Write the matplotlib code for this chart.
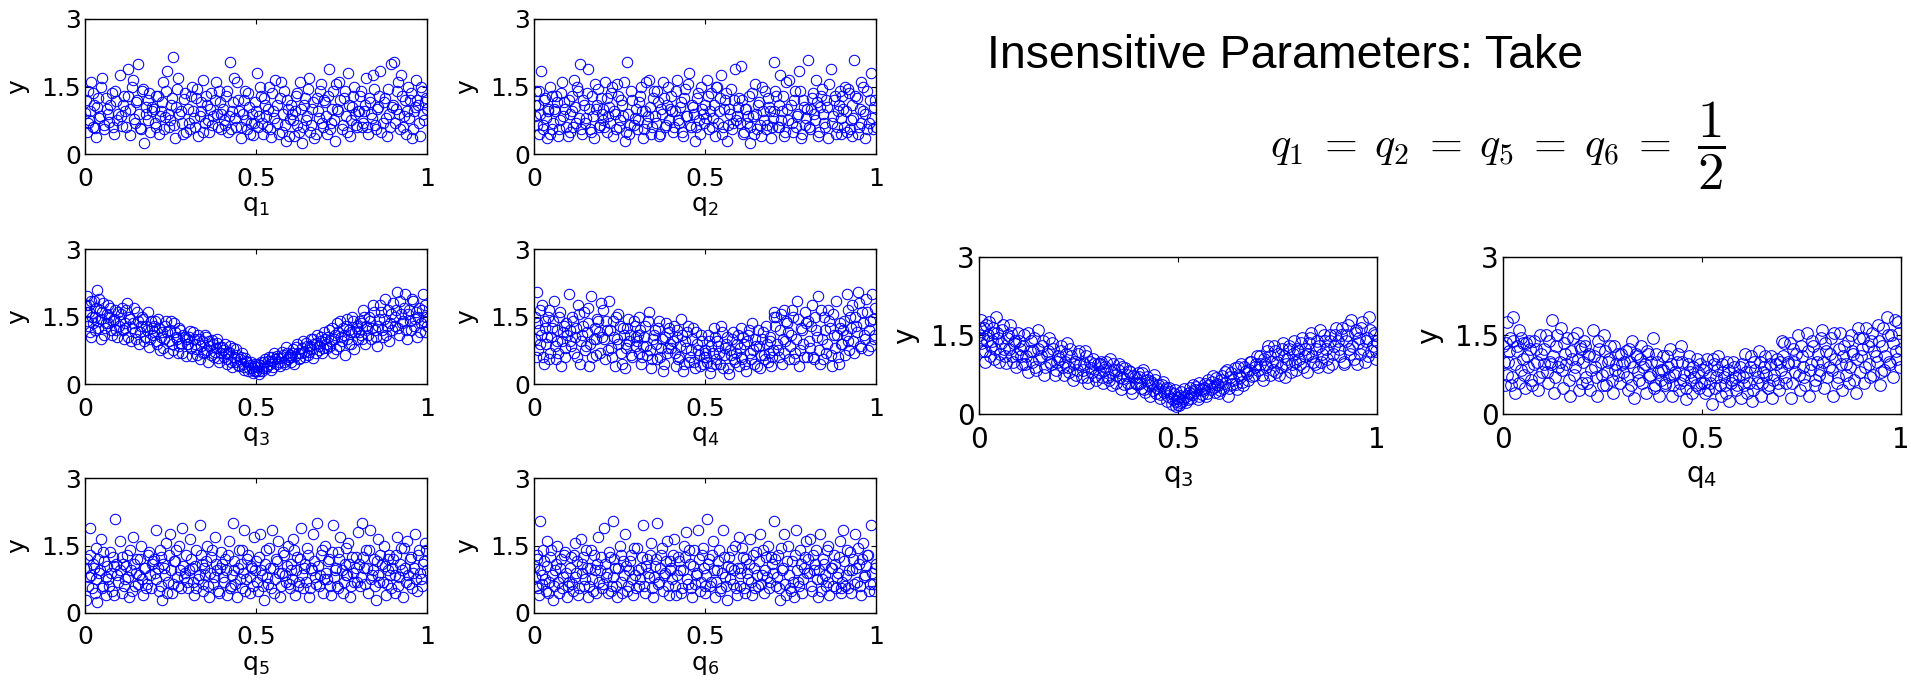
import matplotlib
matplotlib.use("Agg")
import matplotlib.pyplot as plt
import numpy as np

plt.rcParams['font.family'] = ['DejaVu Sans']
plt.rcParams['mathtext.fontset'] = 'custom'
plt.rcParams['mathtext.rm'] = 'DejaVu Sans'
plt.rcParams['mathtext.it'] = 'DejaVu Sans:italic'

# ---- data: x in 1/1000, y in 1/100 ----
q1_x = [1, 5, 8, 13, 18, 22, 27, 33, 38, 44, 51, 57, 63, 70, 78, 84, 90, 96,
        103, 109, 114, 118, 125, 131, 136, 142, 149, 155, 161, 166, 172, 179, 185, 190, 196,
        204, 209, 215, 222, 227, 233, 240, 246, 251, 257, 263, 270, 276, 283, 289, 295,
        302, 307, 313, 320, 326, 331, 338, 344, 350, 357, 363, 369, 375, 382, 388, 394, 399,
        405, 411, 418, 424, 429, 436, 442, 448, 455, 461, 467, 474, 480, 486, 492, 498,
        503, 508, 514, 520, 527, 532, 538, 545, 551, 556, 562, 569, 575, 581, 587, 593, 598,
        604, 610, 616, 621, 628, 634, 640, 646, 652, 658, 664, 671, 677, 683, 690, 696,
        702, 708, 714, 719, 726, 732, 738, 744, 750, 757, 763, 769, 775, 781, 787, 793, 798,
        803, 809, 815, 821, 827, 833, 839, 845, 851, 857, 863, 870, 876, 882, 888, 894,
        904, 909, 915, 921, 927, 932, 938, 944, 950, 956, 962, 968, 974, 980, 986, 992, 997]
q1_y = [92, 48, 140, 75, 160, 60, 110, 38, 125, 85, 168, 55, 100, 72, 135, 45, 118, 88,
        175, 62, 130, 95, 190, 42, 150, 78, 115, 200, 58, 140, 25, 88, 120, 50, 105,
        70, 128, 45, 95, 160, 82, 185, 60, 110, 215, 35, 145, 90, 68, 122, 50,
        100, 55, 150, 80, 125, 40, 95, 165, 70, 110, 48, 135, 85, 160, 60, 115, 90,
        75, 130, 50, 205, 95, 170, 60, 120, 35, 88, 140, 55, 105, 68, 42, 115,
        180, 85, 130, 45, 110, 60, 150, 38, 95, 165, 70, 125, 50, 140, 28, 100, 78,
        90, 40, 130, 65, 160, 25, 110, 75, 145, 50, 100, 35, 125, 80, 155, 60,
        115, 45, 190, 70, 140, 30, 100, 160, 55, 125, 85, 180, 40, 105, 150, 65, 95,
        130, 60, 95, 170, 45, 115, 80, 145, 55, 105, 185, 70, 125, 40, 90, 200,
        205, 100, 160, 55, 130, 85, 45, 150, 120, 35, 95, 165, 110, 40, 140, 75, 125]
q1_xb = [4, 10, 16, 24, 30, 35, 41, 47, 55, 61, 67, 74, 81, 87, 94,
         105, 111, 120, 127, 133, 139, 145, 153, 159, 165, 171, 177, 183, 188, 195,
         201, 207, 212, 218, 224, 230, 236, 243, 249, 254, 260, 266, 273, 280, 287, 293,
         304, 310, 316, 322, 328, 335, 340, 346, 353, 359, 366, 372, 379, 385, 391, 397,
         403, 409, 416, 421, 427, 433, 439, 445, 451, 457, 464, 470, 476, 483, 489, 495,
         501, 506, 511, 517, 523, 529, 535, 541, 548, 554, 560, 566, 572, 578, 584, 590, 596,
         602, 607, 613, 619, 625, 631, 637, 643, 649, 655, 661, 667, 674, 680, 686, 693, 699,
         705, 711, 716, 722, 729, 735, 741, 747, 753, 760, 766, 772, 778, 784, 790, 796,
         801, 806, 812, 818, 824, 830, 836, 842, 848, 854, 860, 866, 873, 879, 885, 891, 897,
         902, 906, 912, 918, 924, 930, 935, 941, 947, 953, 959, 965, 971, 977, 983, 989, 995, 999]
q1_yb = [120, 70, 95, 135, 58, 105, 80, 150, 65, 125, 90, 110, 60, 140, 75,
         85, 110, 60, 130, 100, 165, 70, 120, 90, 55, 145, 105, 75, 135, 95,
         100, 60, 130, 85, 115, 55, 140, 90, 75, 125, 65, 105, 170, 95, 45, 135,
         70, 130, 95, 60, 145, 85, 115, 50, 130, 75, 100, 65, 120, 90, 140, 55,
         100, 65, 140, 85, 55, 115, 80, 160, 95, 60, 120, 75, 135, 45, 90, 70,
         95, 60, 150, 70, 125, 85, 100, 55, 135, 80, 110, 45, 160, 90, 65, 120, 40,
         110, 75, 95, 135, 50, 100, 60, 125, 85, 170, 65, 115, 45, 95, 140, 70, 120,
         85, 130, 55, 100, 75, 155, 95, 120, 65, 140, 50, 110, 75, 130, 90, 60,
         95, 140, 70, 110, 60, 125, 90, 175, 65, 100, 130, 50, 115, 80, 145, 60, 105,
         110, 70, 140, 90, 175, 60, 120, 95, 80, 135, 55, 105, 120, 70, 150, 90, 115, 100]

q2_x = [3, 7, 12, 16, 21, 27, 32, 37, 42, 48, 54, 59, 65, 71, 77, 83, 89, 95,
        101, 106, 112, 118, 123, 129, 135, 140, 146, 152, 157, 163, 169, 175, 181, 186, 192, 198,
        203, 208, 214, 220, 226, 231, 237, 243, 249, 255, 261, 267, 273, 279, 285, 291, 297,
        302, 308, 313, 319, 325, 331, 337, 342, 348, 354, 360, 366, 372, 378, 384, 390, 396,
        401, 407, 413, 418, 424, 430, 436, 442, 447, 453, 459, 465, 471, 477, 483, 489, 495,
        500, 506, 512, 517, 523, 529, 535, 541, 547, 552, 558, 564, 570, 576, 582, 588, 594, 599,
        604, 610, 616, 622, 628, 633, 639, 645, 651, 657, 663, 669, 675, 681, 687, 693, 698,
        703, 709, 715, 720, 726, 732, 738, 744, 750, 756, 762, 768, 774, 780, 786, 792, 798,
        802, 808, 814, 820, 825, 831, 837, 843, 849, 855, 861, 867, 873, 879, 885, 891, 897,
        903, 908, 914, 920, 926, 931, 937, 943, 949, 955, 961, 967, 973, 979, 985, 991, 997]
q2_y = [85, 140, 110, 45, 185, 65, 125, 35, 95, 150, 55, 100, 130, 40, 75, 160, 115, 60,
        120, 50, 95, 165, 70, 140, 200, 45, 110, 80, 190, 55, 130, 35, 100, 145, 65, 90,
        75, 160, 50, 105, 135, 40, 90, 155, 60, 120, 85, 30, 205, 45, 140, 65, 100,
        55, 115, 150, 35, 95, 70, 165, 45, 125, 85, 140, 40, 100, 160, 60, 110, 75,
        130, 50, 95, 165, 70, 115, 40, 145, 85, 180, 60, 105, 30, 125, 75, 150, 90,
        110, 165, 55, 135, 80, 40, 150, 95, 175, 60, 120, 30, 100, 145, 70, 190, 85, 125,
        195, 45, 100, 70, 130, 25, 85, 155, 55, 115, 40, 95, 140, 65, 105, 35, 80,
        205, 130, 60, 175, 95, 40, 160, 75, 110, 50, 140, 85, 185, 35, 120, 65, 100,
        210, 55, 125, 90, 165, 40, 105, 145, 70, 120, 35, 190, 85, 130, 60, 110, 45,
        100, 150, 50, 135, 75, 40, 210, 125, 60, 160, 95, 35, 140, 70, 180, 55, 120]
q2_xb = [2, 9, 14, 19, 25, 30, 35, 40, 46, 52, 57, 62, 68, 74, 80, 86, 92, 98,
         104, 110, 115, 121, 126, 132, 138, 144, 149, 155, 160, 166, 172, 178, 184, 190, 195,
         201, 206, 212, 217, 223, 229, 234, 240, 246, 252, 258, 264, 270, 276, 282, 288, 294,
         305, 310, 316, 322, 328, 334, 339, 345, 351, 357, 363, 369, 375, 381, 387, 393, 399,
         404, 410, 416, 421, 427, 433, 439, 444, 450, 456, 462, 468, 474, 480, 486, 492, 498,
         503, 509, 514, 520, 526, 532, 538, 544, 549, 555, 561, 567, 573, 579, 585, 591, 597,
         601, 607, 613, 619, 625, 631, 636, 642, 648, 654, 660, 666, 672, 678, 684, 690, 696,
         701, 706, 712, 717, 723, 729, 735, 741, 747, 753, 759, 765, 771, 777, 783, 789, 795,
         805, 811, 817, 822, 828, 834, 840, 846, 852, 858, 864, 870, 876, 882, 888, 894, 899,
         901, 906, 911, 917, 923, 929, 934, 940, 946, 952, 957, 963, 969, 975, 981, 987, 993, 999]
q2_yb = [110, 65, 140, 90, 55, 120, 80, 100, 45, 130, 70, 95, 115, 55, 135, 85, 100, 40,
         90, 130, 60, 105, 150, 80, 55, 120, 70, 135, 100, 50, 85, 155, 110, 60, 125,
         100, 60, 125, 85, 70, 150, 95, 55, 130, 75, 110, 160, 50, 90, 65, 120, 80,
         75, 130, 95, 55, 160, 85, 105, 60, 140, 70, 115, 45, 90, 125, 65, 150, 100,
         95, 60, 140, 75, 105, 50, 125, 85, 155, 65, 110, 90, 60, 135, 45, 100, 70,
         80, 130, 95, 60, 110, 150, 70, 125, 45, 100, 135, 65, 90, 55, 120, 75, 105,
         70, 120, 50, 100, 85, 60, 135, 45, 90, 110, 65, 150, 75, 55, 125, 95, 60,
         95, 140, 60, 110, 75, 130, 50, 100, 165, 70, 120, 60, 90, 140, 45, 105, 80,
         60, 100, 135, 75, 115, 50, 130, 90, 60, 105, 155, 70, 120, 45, 95, 140, 80,
         130, 60, 95, 145, 55, 110, 80, 130, 45, 100, 70, 150, 90, 55, 120, 80, 105, 60]

q3_x = [2, 5, 9, 13, 17, 21, 26, 30, 35, 39, 44, 48, 53, 58, 63, 68, 73, 79, 85, 91, 96,
        102, 107, 113, 118, 124, 129, 135, 140, 146, 152, 158, 163, 169, 175, 181, 187, 193, 198,
        203, 208, 214, 219, 225, 231, 236, 242, 248, 253, 259, 265, 271, 276, 282, 288, 294, 299,
        302, 308, 313, 319, 324, 330, 336, 342, 347, 353, 359, 364, 370, 376, 382, 387, 393, 398,
        403, 408, 414, 419, 425, 431, 436, 442, 447, 453, 458, 464, 469, 475, 480, 486, 491, 495, 499,
        501, 505, 510, 515, 521, 526, 532, 537, 543, 548, 554, 560, 565, 571, 577, 583, 588, 594, 599,
        603, 609, 614, 620, 626, 631, 637, 643, 648, 654, 660, 666, 671, 677, 683, 689, 694, 699,
        702, 708, 713, 719, 725, 730, 736, 742, 748, 753, 759, 765, 771, 777, 782, 788, 794, 799,
        803, 808, 814, 820, 826, 831, 837, 843, 849, 855, 861, 866, 872, 878, 884, 890, 896,
        902, 907, 913, 918, 924, 930, 935, 941, 947, 953, 959, 964, 970, 976, 982, 988, 993, 998]
q3_y = [160, 195, 130, 175, 105, 150, 185, 120, 210, 140, 165, 100, 180, 125, 155, 135, 170, 110, 145, 120, 160,
        140, 170, 100, 125, 180, 150, 95, 135, 115, 160, 88, 130, 145, 105, 120, 82, 140, 110,
        130, 95, 145, 75, 115, 100, 140, 68, 120, 88, 135, 105, 70, 125, 92, 110, 62, 100,
        90, 118, 62, 100, 78, 110, 55, 95, 72, 105, 50, 85, 98, 60, 80, 92, 48, 70,
        75, 90, 45, 68, 85, 38, 60, 78, 42, 55, 70, 32, 58, 48, 35, 50, 25, 40, 30,
        28, 45, 22, 50, 35, 55, 40, 60, 32, 52, 68, 45, 58, 40, 72, 50, 82, 55, 65,
        48, 78, 62, 90, 55, 70, 95, 60, 85, 72, 100, 58, 88, 110, 75, 95, 68, 115,
        100, 80, 120, 95, 70, 110, 135, 85, 105, 125, 65, 145, 90, 115, 150, 78, 130, 100,
        140, 110, 165, 90, 125, 150, 100, 175, 120, 85, 145, 160, 105, 190, 130, 95, 155,
        180, 130, 205, 110, 155, 140, 200, 100, 165, 120, 185, 145, 105, 170, 135, 200, 115, 150]
q3_xb = [3, 7, 11, 15, 19, 23, 28, 33, 37, 42, 46, 51, 56, 61, 66, 71, 76, 82, 88, 94, 99,
         104, 110, 116, 121, 127, 132, 138, 143, 149, 155, 161, 166, 172, 178, 184, 190, 196,
         201, 206, 211, 217, 222, 228, 233, 239, 245, 251, 256, 262, 268, 274, 279, 285, 291, 297,
         304, 310, 316, 322, 327, 333, 339, 345, 350, 356, 362, 367, 373, 379, 385, 390, 396,
         401, 405, 411, 416, 422, 427, 433, 439, 444, 450, 455, 461, 466, 472, 477, 483, 488, 493, 497,
         503, 508, 513, 518, 524, 529, 535, 540, 546, 551, 557, 562, 568, 574, 580, 585, 591, 596,
         601, 606, 612, 617, 623, 629, 634, 640, 645, 651, 657, 662, 668, 674, 679, 685, 691, 696,
         705, 710, 716, 722, 727, 733, 739, 745, 750, 756, 762, 767, 773, 779, 785, 790, 796,
         801, 806, 811, 817, 823, 828, 834, 840, 846, 852, 858, 864, 869, 875, 881, 887, 893, 899,
         905, 910, 916, 921, 927, 933, 938, 944, 950, 956, 961, 967, 973, 979, 985, 990, 995, 999]
q3_yb = [175, 140, 160, 115, 185, 135, 150, 170, 125, 190, 145, 160, 110, 135, 175, 150, 120, 140, 165, 105, 130,
         155, 120, 135, 165, 105, 145, 125, 170, 100, 140, 115, 150, 95, 130, 160, 100, 125,
         115, 140, 90, 125, 105, 80, 130, 115, 95, 140, 75, 115, 100, 85, 120, 70, 105, 90,
         105, 80, 115, 90, 65, 100, 85, 70, 110, 75, 95, 65, 88, 72, 100, 58, 82,
         82, 60, 70, 55, 72, 50, 80, 48, 65, 40, 60, 45, 38, 52, 30, 42, 35, 28, 45,
         38, 30, 42, 28, 48, 36, 52, 45, 60, 38, 55, 62, 48, 58, 65, 45, 70, 60,
         60, 70, 45, 82, 68, 58, 80, 72, 92, 65, 85, 78, 100, 70, 92, 85, 105, 80,
         90, 105, 85, 125, 100, 78, 115, 140, 95, 110, 130, 100, 120, 90, 140, 115, 125,
         115, 135, 100, 150, 130, 110, 140, 125, 160, 105, 130, 175, 120, 145, 110, 165, 135, 120,
         150, 165, 125, 185, 135, 170, 120, 155, 140, 190, 130, 160, 150, 115, 165, 140, 175, 130]

q4_x = [2, 6, 10, 15, 19, 24, 29, 33, 38, 43, 48, 53, 58, 63, 68, 73, 79, 84, 90, 95,
        101, 106, 112, 117, 123, 128, 134, 140, 145, 151, 157, 162, 168, 174, 180, 185, 191, 197,
        202, 208, 213, 219, 225, 230, 236, 242, 247, 253, 259, 265, 270, 276, 282, 288, 294, 299,
        303, 308, 314, 320, 325, 331, 337, 343, 348, 354, 360, 365, 371, 377, 383, 388, 394, 399,
        402, 408, 414, 419, 425, 431, 436, 442, 448, 453, 459, 465, 471, 476, 482, 488, 494, 499,
        503, 508, 514, 519, 525, 531, 536, 542, 548, 553, 559, 565, 570, 576, 582, 587, 593, 598,
        604, 609, 615, 621, 626, 632, 638, 643, 649, 655, 660, 666, 672, 677, 683, 689, 694, 699,
        703, 708, 713, 718, 724, 730, 735, 741, 747, 752, 758, 764, 769, 775, 781, 787, 792, 798,
        802, 808, 813, 819, 825, 830, 836, 842, 848, 853, 859, 865, 871, 876, 882, 888, 894, 899,
        903, 908, 914, 919, 925, 931, 936, 942, 948, 953, 959, 965, 971, 976, 982, 988, 993, 998]
q4_y = [150, 60, 205, 120, 90, 175, 45, 140, 105, 165, 70, 125, 185, 55, 95, 150, 40, 115, 80, 135,
        200, 95, 150, 70, 125, 175, 45, 110, 160, 85, 135, 40, 195, 100, 65, 145, 115, 180,
        165, 55, 120, 185, 80, 140, 40, 100, 155, 70, 125, 35, 90, 145, 110, 60, 130, 85,
        110, 150, 45, 85, 130, 65, 160, 35, 100, 120, 55, 140, 80, 30, 105, 70, 125, 90,
        80, 130, 40, 105, 60, 145, 30, 95, 115, 50, 75, 125, 35, 90, 65, 110, 45, 70,
        60, 110, 25, 85, 125, 45, 95, 70, 130, 35, 80, 105, 22, 65, 115, 50, 90, 40,
        125, 55, 90, 30, 110, 70, 135, 45, 85, 120, 35, 100, 65, 130, 50, 95, 40, 75,
        160, 150, 75, 120, 45, 165, 95, 135, 55, 110, 150, 70, 185, 40, 125, 90, 160, 60,
        140, 80, 175, 55, 120, 195, 45, 100, 150, 70, 165, 125, 40, 110, 185, 60, 135, 90,
        120, 65, 200, 95, 150, 175, 70, 130, 205, 85, 160, 110, 190, 75, 140, 200, 100, 170]
q4_xb = [4, 8, 13, 17, 21, 26, 31, 36, 40, 45, 50, 55, 61, 66, 71, 76, 81, 87, 92, 97,
         104, 109, 115, 120, 126, 131, 137, 143, 148, 154, 159, 165, 171, 177, 182, 188, 194, 199,
         205, 210, 216, 222, 228, 233, 239, 245, 250, 256, 262, 268, 273, 279, 285, 291, 297,
         301, 306, 311, 317, 322, 328, 334, 340, 345, 351, 357, 362, 368, 374, 380, 385, 391, 396,
         405, 411, 417, 422, 428, 434, 439, 445, 451, 456, 462, 468, 474, 479, 485, 491, 496,
         501, 506, 511, 517, 522, 528, 533, 539, 545, 550, 556, 562, 567, 573, 579, 584, 590, 596,
         601, 606, 612, 618, 623, 629, 635, 640, 646, 652, 657, 663, 669, 674, 680, 686, 691, 697,
         701, 705, 710, 715, 721, 727, 732, 738, 744, 749, 755, 761, 766, 772, 778, 784, 789, 795,
         805, 810, 816, 822, 827, 833, 839, 844, 850, 856, 862, 867, 873, 879, 885, 891, 896,
         901, 906, 911, 917, 922, 928, 933, 939, 945, 950, 956, 962, 968, 973, 979, 985, 990, 996]
q4_yb = [100, 135, 75, 165, 110, 60, 125, 90, 150, 55, 105, 140, 85, 120, 70, 160, 95, 130, 60, 110,
         120, 85, 140, 105, 60, 155, 95, 130, 75, 115, 170, 90, 60, 125, 100, 140, 70, 105,
         100, 140, 75, 120, 60, 105, 150, 90, 130, 45, 110, 80, 125, 95, 65, 140, 105,
         95, 70, 120, 60, 105, 85, 140, 75, 55, 110, 90, 125, 60, 100, 45, 135, 80, 115,
         95, 70, 120, 55, 85, 110, 45, 80, 130, 60, 100, 50, 115, 75, 40, 95, 60,
         75, 50, 95, 40, 70, 105, 55, 85, 45, 115, 65, 90, 35, 75, 100, 55, 70, 110,
         80, 60, 105, 45, 95, 120, 55, 75, 100, 40, 85, 65, 115, 55, 90, 70, 105, 60,
         150, 130, 90, 60, 155, 100, 70, 140, 115, 85, 165, 55, 100, 145, 75, 120, 60, 135,
         95, 130, 60, 150, 105, 75, 165, 55, 120, 90, 140, 65, 155, 80, 110, 45, 125,
         90, 140, 110, 165, 75, 125, 95, 150, 115, 180, 80, 135, 100, 160, 120, 85, 145, 110]

q5_x = [2, 7, 11, 16, 21, 26, 31, 36, 41, 47, 52, 57, 62, 67, 73, 78, 84, 89, 95,
        101, 107, 112, 118, 124, 130, 135, 141, 147, 153, 158, 164, 170, 176, 181, 187, 193, 198,
        204, 209, 215, 221, 226, 232, 238, 243, 249, 255, 261, 266, 272, 278, 283, 289, 295,
        301, 306, 312, 318, 324, 329, 335, 341, 346, 352, 358, 364, 369, 375, 381, 387, 392, 398,
        403, 409, 414, 420, 426, 432, 437, 443, 449, 455, 460, 466, 472, 478, 483, 489, 495,
        501, 506, 512, 518, 524, 529, 535, 541, 547, 552, 558, 564, 570, 575, 581, 587, 593, 598,
        603, 609, 615, 620, 626, 632, 638, 643, 649, 655, 661, 666, 672, 678, 684, 689, 695,
        701, 707, 713, 718, 724, 730, 736, 741, 747, 753, 759, 764, 770, 776, 782, 788, 793, 799,
        804, 809, 815, 821, 827, 832, 838, 844, 850, 856, 861, 867, 873, 879, 885, 890, 896,
        902, 907, 913, 919, 925, 930, 936, 942, 948, 954, 959, 965, 971, 977, 983, 988, 994, 999]
q5_y = [30, 120, 80, 190, 55, 100, 145, 25, 90, 165, 60, 115, 40, 75, 135, 50, 105, 210, 85,
        160, 45, 110, 75, 130, 35, 95, 170, 60, 120, 85, 150, 40, 100, 65, 135, 55, 115,
        90, 185, 50, 125, 30, 100, 155, 70, 175, 45, 115, 140, 60, 95, 190, 80, 130,
        55, 165, 100, 40, 140, 75, 195, 110, 50, 85, 150, 35, 125, 65, 170, 95, 45, 135,
        80, 120, 40, 160, 60, 200, 95, 35, 140, 110, 55, 185, 75, 130, 45, 100, 170,
        115, 50, 175, 85, 30, 140, 65, 100, 185, 45, 120, 160, 35, 90, 130, 70, 150, 55,
        95, 165, 40, 125, 70, 190, 55, 110, 145, 35, 100, 175, 80, 200, 60, 130, 45,
        150, 75, 120, 40, 195, 95, 60, 135, 170, 45, 110, 85, 155, 35, 125, 70, 100, 180,
        60, 200, 100, 140, 45, 185, 85, 120, 30, 165, 70, 110, 150, 40, 95, 130, 55,
        120, 45, 170, 80, 145, 35, 100, 160, 65, 125, 90, 175, 50, 140, 75, 110, 155, 95]
q5_xb = [4, 9, 14, 19, 23, 28, 33, 38, 44, 49, 54, 60, 65, 70, 75, 81, 86, 92, 97,
         103, 109, 115, 121, 127, 132, 138, 144, 150, 155, 161, 167, 173, 179, 184, 190, 196,
         201, 207, 212, 218, 223, 229, 235, 241, 246, 252, 258, 263, 269, 275, 281, 286, 292, 298,
         303, 309, 315, 321, 326, 332, 338, 344, 349, 355, 361, 366, 372, 378, 384, 389, 395,
         401, 406, 412, 417, 423, 429, 435, 440, 446, 452, 458, 463, 469, 475, 481, 486, 492, 498,
         503, 509, 515, 521, 527, 532, 538, 544, 550, 555, 561, 567, 573, 578, 584, 590, 596,
         601, 606, 612, 618, 623, 629, 635, 641, 646, 652, 658, 664, 669, 675, 681, 687, 692, 698,
         704, 710, 716, 721, 727, 733, 739, 744, 750, 756, 762, 767, 773, 779, 785, 791, 796,
         801, 807, 812, 818, 824, 830, 835, 841, 847, 853, 858, 864, 870, 876, 882, 887, 893, 899,
         905, 910, 916, 922, 928, 933, 939, 945, 951, 957, 962, 968, 974, 980, 986, 991, 997]
q5_yb = [100, 60, 130, 85, 110, 45, 75, 120, 95, 55, 135, 80, 105, 60, 90, 125, 40, 110, 70,
         95, 125, 60, 105, 80, 140, 50, 110, 90, 65, 120, 75, 100, 55, 130, 85, 110,
         120, 75, 100, 140, 60, 110, 85, 45, 130, 95, 65, 115, 80, 150, 55, 105, 90, 70,
         95, 120, 70, 105, 55, 85, 130, 65, 100, 115, 60, 90, 140, 80, 110, 50, 100,
         110, 70, 95, 130, 55, 85, 115, 65, 100, 75, 140, 90, 50, 120, 80, 105, 60, 95,
         70, 125, 95, 60, 110, 80, 145, 55, 100, 75, 115, 90, 60, 135, 85, 105, 65,
         110, 75, 140, 95, 60, 120, 85, 100, 70, 130, 55, 95, 115, 65, 105, 85, 140, 75,
         90, 115, 60, 135, 80, 100, 55, 120, 95, 70, 145, 85, 110, 60, 90, 125, 70,
         110, 80, 125, 65, 100, 140, 75, 95, 60, 115, 85, 130, 70, 105, 65, 120, 85, 100,
         85, 130, 60, 110, 95, 145, 70, 85, 120, 55, 100, 75, 130, 90, 60, 115, 140]

q6_x = [1, 5, 10, 14, 19, 24, 29, 34, 39, 45, 50, 56, 61, 67, 72, 78, 84, 90, 96,
        102, 107, 113, 119, 124, 130, 136, 141, 147, 153, 158, 164, 170, 176, 182, 187, 193, 199,
        204, 210, 215, 221, 227, 232, 238, 244, 250, 255, 261, 267, 273, 278, 284, 290, 296,
        302, 307, 313, 319, 325, 330, 336, 342, 348, 353, 359, 365, 371, 377, 382, 388, 394, 399,
        404, 409, 415, 421, 427, 432, 438, 444, 450, 456, 461, 467, 473, 479, 485, 490, 496,
        501, 507, 513, 518, 524, 530, 536, 541, 547, 553, 559, 565, 570, 576, 582, 588, 594, 599,
        603, 608, 614, 620, 626, 631, 637, 643, 649, 655, 660, 666, 672, 678, 684, 689, 695,
        702, 707, 713, 719, 725, 731, 736, 742, 748, 754, 760, 765, 771, 777, 783, 789, 795,
        801, 806, 812, 818, 824, 830, 835, 841, 847, 853, 859, 864, 870, 876, 882, 888, 894, 899,
        904, 910, 915, 921, 927, 933, 938, 944, 950, 956, 962, 967, 973, 979, 985, 991, 997]
q6_y = [105, 60, 130, 40, 205, 85, 115, 50, 160, 70, 140, 30, 95, 150, 45, 120, 80, 135, 35,
        70, 125, 50, 155, 90, 40, 165, 110, 60, 140, 35, 100, 75, 130, 45, 170, 95, 55,
        190, 80, 45, 125, 60, 205, 100, 35, 150, 70, 115, 175, 50, 95, 130, 40, 85,
        145, 60, 100, 195, 45, 120, 80, 155, 35, 105, 200, 70, 130, 50, 90, 160, 40, 115,
        75, 165, 40, 125, 95, 55, 150, 180, 65, 110, 35, 140, 85, 185, 50, 130, 100,
        45, 210, 120, 70, 160, 35, 95, 140, 55, 185, 80, 30, 125, 100, 65, 150, 40, 170,
        90, 145, 55, 120, 75, 165, 40, 100, 135, 60, 175, 85, 45, 125, 150, 70, 110,
        205, 60, 130, 30, 95, 175, 40, 150, 55, 115, 35, 185, 70, 140, 45, 100, 160,
        120, 165, 50, 95, 140, 35, 175, 75, 110, 60, 150, 40, 100, 130, 55, 90, 160, 45,
        185, 60, 140, 95, 45, 120, 175, 70, 110, 40, 155, 85, 130, 50, 195, 65, 100]
q6_xb = [3, 8, 12, 17, 22, 27, 32, 37, 42, 47, 53, 58, 64, 69, 75, 81, 87, 93, 98,
         104, 110, 116, 121, 127, 133, 139, 144, 150, 156, 161, 167, 173, 179, 185, 190, 196,
         201, 207, 213, 218, 224, 230, 235, 241, 247, 253, 258, 264, 270, 276, 281, 287, 293, 298,
         304, 310, 316, 322, 327, 333, 339, 345, 350, 356, 362, 368, 374, 379, 385, 391, 397,
         401, 407, 412, 418, 424, 430, 435, 441, 447, 453, 458, 464, 470, 476, 482, 487, 493, 499,
         504, 510, 515, 521, 527, 533, 539, 544, 550, 556, 562, 567, 573, 579, 585, 591, 597,
         601, 606, 611, 617, 623, 629, 634, 640, 646, 652, 657, 663, 669, 675, 681, 686, 692, 698,
         704, 710, 716, 722, 728, 733, 739, 745, 751, 757, 762, 768, 774, 780, 786, 792, 798,
         803, 809, 815, 821, 827, 832, 838, 844, 850, 856, 861, 867, 873, 879, 885, 891, 897,
         901, 907, 913, 918, 924, 930, 936, 941, 947, 953, 959, 965, 970, 976, 982, 988, 994, 999]
q6_yb = [80, 120, 55, 95, 65, 140, 75, 105, 45, 125, 85, 60, 110, 70, 100, 55, 130, 90, 60,
         100, 65, 130, 80, 115, 55, 90, 125, 75, 100, 60, 140, 50, 95, 110, 70, 125,
         65, 110, 90, 135, 50, 80, 120, 60, 100, 130, 45, 85, 105, 60, 115, 75, 145, 55,
         95, 75, 125, 60, 105, 90, 130, 55, 80, 120, 65, 100, 145, 85, 115, 60, 95,
         100, 130, 60, 85, 115, 45, 95, 125, 75, 140, 55, 105, 65, 90, 120, 70, 145, 60,
         85, 110, 60, 130, 95, 70, 115, 50, 90, 125, 60, 105, 75, 140, 95, 55, 100,
         60, 100, 125, 45, 90, 110, 70, 130, 55, 85, 115, 65, 140, 95, 80, 55, 125, 90,
         120, 80, 55, 145, 100, 65, 115, 85, 50, 70, 130, 95, 60, 110, 75, 125, 90,
         90, 60, 130, 110, 75, 95, 50, 120, 85, 140, 70, 100, 60, 110, 80, 125, 55,
         70, 115, 85, 55, 135, 95, 65, 100, 145, 60, 120, 80, 105, 130, 65, 90, 50, 110]

# second sample, shown enlarged on the right
r3_x = [1, 4, 8, 12, 16, 20, 25, 29, 34, 38, 43, 47, 52, 57, 62, 67, 72, 77, 83, 88, 94, 98,
        103, 108, 113, 119, 124, 130, 135, 141, 147, 152, 158, 164, 170, 176, 181, 187, 193, 198,
        202, 207, 213, 218, 224, 229, 235, 241, 246, 252, 258, 263, 269, 275, 281, 286, 292, 298,
        301, 306, 312, 317, 323, 329, 334, 340, 345, 351, 357, 362, 368, 374, 380, 385, 391, 397,
        402, 407, 412, 418, 423, 429, 434, 440, 445, 451, 456, 462, 467, 473, 478, 484, 489, 494, 498,
        502, 506, 511, 516, 521, 527, 532, 538, 543, 549, 554, 560, 565, 571, 576, 582, 587, 593, 598,
        603, 608, 614, 619, 625, 631, 636, 642, 647, 653, 659, 664, 670, 676, 681, 687, 693, 698,
        702, 707, 713, 718, 724, 730, 735, 741, 746, 752, 758, 763, 769, 775, 780, 786, 792, 797,
        801, 806, 812, 818, 823, 829, 835, 840, 846, 852, 858, 863, 869, 875, 881, 886, 892, 898,
        902, 907, 913, 918, 924, 930, 935, 941, 946, 952, 958, 963, 969, 975, 981, 986, 992, 997, 999]
r3_y = [150, 180, 120, 165, 100, 140, 175, 130, 155, 105, 185, 145, 115, 160, 125, 98, 150, 170, 110, 135, 90, 155,
        125, 95, 150, 110, 80, 140, 120, 90, 160, 105, 130, 75, 115, 145, 95, 125, 85, 110,
        105, 130, 75, 115, 90, 125, 65, 100, 85, 120, 70, 95, 110, 60, 88, 105, 72, 95,
        80, 100, 60, 90, 70, 105, 55, 85, 75, 95, 48, 68, 88, 60, 80, 40, 70, 58,
        70, 50, 85, 42, 65, 35, 58, 75, 40, 55, 30, 62, 45, 25, 50, 20, 38, 15, 30,
        18, 35, 25, 48, 22, 40, 30, 55, 45, 28, 60, 38, 50, 35, 65, 48, 72, 42, 58,
        40, 65, 50, 80, 35, 70, 58, 88, 48, 75, 95, 55, 82, 65, 100, 72, 90, 110,
        85, 110, 65, 95, 120, 75, 100, 130, 80, 115, 90, 135, 70, 105, 125, 95, 140, 85,
        120, 95, 145, 110, 80, 135, 155, 100, 125, 90, 160, 115, 140, 105, 150, 95, 130, 165,
        140, 110, 165, 95, 150, 125, 180, 105, 160, 135, 115, 175, 100, 145, 185, 120, 155, 105, 140]
r3_xb = [3, 6, 10, 14, 18, 23, 27, 32, 36, 41, 45, 50, 55, 60, 65, 70, 75, 80, 86, 91, 96,
         101, 106, 111, 116, 122, 127, 133, 138, 144, 149, 155, 161, 167, 173, 178, 184, 190, 196,
         205, 210, 216, 221, 227, 232, 238, 244, 249, 255, 261, 266, 272, 278, 284, 289, 295,
         303, 309, 315, 320, 326, 331, 337, 343, 348, 354, 360, 365, 371, 377, 383, 388, 394, 399,
         404, 410, 415, 421, 426, 432, 437, 443, 448, 454, 459, 465, 470, 476, 481, 487, 492, 496, 500,
         501, 504, 508, 513, 519, 524, 530, 535, 541, 546, 552, 557, 563, 568, 574, 579, 585, 590, 596,
         601, 606, 611, 617, 622, 628, 634, 639, 645, 650, 656, 662, 667, 673, 679, 684, 690, 696,
         705, 710, 716, 721, 727, 732, 738, 744, 749, 755, 761, 766, 772, 778, 783, 789, 795, 799,
         803, 809, 815, 820, 826, 832, 837, 843, 849, 855, 860, 866, 872, 878, 883, 889, 895,
         904, 910, 916, 921, 927, 933, 938, 944, 949, 955, 961, 966, 972, 978, 983, 989, 995, 998]
r3_yb = [165, 135, 145, 120, 170, 150, 110, 140, 165, 125, 155, 100, 135, 170, 110, 145, 125, 155, 100, 140, 115,
         140, 110, 130, 95, 155, 120, 100, 145, 85, 125, 110, 140, 90, 120, 100, 135, 75, 100,
         120, 90, 100, 135, 80, 110, 95, 75, 115, 95, 85, 120, 70, 100, 80, 95, 65,
         95, 70, 85, 100, 65, 80, 95, 60, 85, 70, 90, 58, 75, 82, 50, 72, 60, 78,
         60, 78, 48, 70, 55, 62, 45, 65, 50, 38, 55, 42, 50, 35, 42, 28, 45, 25, 20,
         30, 22, 42, 30, 35, 28, 50, 38, 42, 52, 35, 48, 45, 58, 40, 55, 62, 52, 68,
         55, 45, 72, 60, 85, 50, 78, 65, 58, 90, 70, 62, 90, 78, 85, 100, 75, 95,
         95, 75, 105, 90, 130, 110, 85, 120, 100, 75, 125, 110, 95, 130, 80, 115, 100, 125,
         105, 135, 90, 125, 115, 145, 110, 95, 140, 130, 100, 150, 125, 90, 140, 115, 150,
         125, 150, 100, 140, 170, 115, 130, 155, 95, 145, 165, 125, 140, 110, 160, 130, 150, 120]

r4_x = [1, 5, 9, 13, 17, 22, 26, 31, 36, 41, 46, 51, 56, 61, 66, 71, 77, 82, 88, 94, 98,
        102, 107, 112, 117, 122, 128, 133, 139, 145, 150, 156, 162, 168, 173, 179, 185, 191, 197,
        203, 208, 214, 219, 225, 231, 236, 242, 248, 253, 259, 265, 270, 276, 282, 288, 293, 299,
        302, 308, 313, 319, 325, 330, 336, 342, 347, 353, 359, 365, 370, 376, 382, 387, 393, 398,
        403, 408, 414, 419, 425, 430, 436, 442, 447, 453, 459, 464, 470, 475, 481, 487, 492, 498,
        502, 507, 513, 519, 524, 530, 535, 541, 547, 552, 558, 564, 569, 575, 581, 586, 592, 598,
        603, 608, 614, 620, 625, 631, 637, 642, 648, 654, 659, 665, 671, 676, 682, 688, 693, 698,
        702, 707, 712, 717, 723, 729, 734, 740, 746, 751, 757, 763, 768, 774, 780, 785, 791, 796,
        801, 807, 812, 818, 824, 829, 835, 841, 846, 852, 858, 863, 869, 875, 880, 886, 892, 897,
        902, 907, 913, 919, 924, 930, 936, 941, 947, 953, 958, 964, 970, 975, 981, 987, 992, 997]
r4_y = [130, 55, 175, 100, 145, 70, 185, 40, 120, 160, 85, 135, 50, 110, 140, 65, 95, 125, 45, 150, 80,
        95, 150, 60, 100, 180, 40, 130, 90, 165, 50, 115, 145, 35, 105, 75, 155, 45, 125,
        140, 70, 110, 45, 160, 90, 35, 125, 75, 150, 55, 100, 130, 40, 85, 115, 60, 95,
        80, 120, 45, 100, 140, 30, 110, 65, 130, 90, 40, 115, 75, 145, 55, 100, 35, 85,
        110, 55, 90, 125, 35, 75, 100, 45, 130, 65, 28, 95, 80, 40, 70, 105, 50, 60,
        85, 40, 105, 60, 20, 95, 70, 110, 35, 80, 55, 100, 25, 65, 90, 45, 75, 30,
        70, 115, 40, 90, 25, 100, 60, 120, 35, 80, 110, 50, 95, 30, 75, 105, 45, 85,
        140, 135, 60, 100, 30, 125, 80, 150, 45, 110, 70, 155, 35, 95, 130, 55, 115, 85,
        160, 50, 120, 90, 145, 35, 105, 70, 155, 45, 130, 95, 60, 150, 115, 40, 165, 80,
        125, 60, 165, 95, 140, 75, 110, 170, 55, 130, 85, 185, 100, 150, 70, 120, 175, 90]
r4_xb = [3, 7, 11, 15, 20, 24, 29, 34, 39, 44, 49, 54, 59, 64, 69, 74, 79, 85, 91, 96,
         104, 110, 115, 120, 125, 131, 136, 142, 147, 153, 159, 165, 170, 176, 182, 188, 194, 199,
         201, 206, 211, 217, 222, 228, 234, 239, 245, 251, 256, 262, 267, 273, 279, 285, 290, 296,
         305, 311, 316, 322, 327, 333, 339, 345, 350, 356, 362, 367, 373, 379, 385, 390, 396,
         401, 406, 411, 416, 422, 428, 433, 439, 444, 450, 456, 461, 467, 473, 478, 484, 490, 495,
         505, 510, 516, 521, 527, 532, 538, 544, 549, 555, 561, 566, 572, 578, 583, 589, 595,
         601, 606, 611, 617, 622, 628, 634, 640, 645, 651, 656, 662, 668, 673, 679, 685, 690, 696,
         704, 709, 715, 720, 726, 732, 737, 743, 749, 754, 760, 766, 771, 777, 783, 788, 794, 799,
         804, 810, 815, 821, 827, 832, 838, 844, 849, 855, 861, 866, 872, 878, 883, 889, 895,
         900, 905, 910, 916, 921, 927, 933, 939, 944, 950, 956, 961, 967, 973, 979, 984, 990, 995, 999]
r4_yb = [100, 135, 75, 120, 55, 140, 95, 130, 60, 145, 105, 75, 135, 90, 125, 55, 140, 100, 70, 115,
         125, 80, 140, 95, 110, 70, 150, 100, 85, 135, 95, 65, 120, 145, 90, 105, 130, 60,
         100, 130, 60, 115, 85, 110, 70, 140, 100, 55, 120, 80, 105, 65, 130, 95, 75, 115,
         100, 70, 125, 55, 90, 115, 80, 105, 60, 95, 120, 70, 100, 50, 115, 80, 65,
         85, 60, 110, 70, 95, 55, 80, 115, 60, 100, 75, 50, 110, 65, 90, 55, 80, 95,
         60, 90, 45, 75, 105, 50, 85, 55, 95, 70, 40, 85, 60, 100, 70, 55, 90,
         95, 55, 80, 60, 110, 45, 85, 70, 100, 60, 90, 75, 55, 110, 65, 95, 60, 100,
         110, 70, 95, 135, 60, 100, 115, 75, 130, 90, 55, 120, 85, 140, 65, 100, 75, 145,
         100, 135, 70, 115, 85, 155, 60, 125, 95, 110, 75, 140, 90, 120, 65, 105, 145,
         110, 145, 90, 130, 70, 155, 120, 100, 140, 80, 165, 110, 150, 95, 135, 180, 105, 155, 125]

x_ticks = [0, 0.5, 1]
x_tick_labels = ['0', '0.5', '1']
y_ticks = [0, 1.5, 3]
y_tick_labels = ['0', '1.5', '3']

# panels: x lists, y lists, subscript, box in pixels (left, top, right, bottom), enlarged copy?
W, H = 1911, 681
panels = [
    ((q1_x, q1_xb), (q1_y, q1_yb), '1', (85, 19, 427, 154), False),
    ((q2_x, q2_xb), (q2_y, q2_yb), '2', (534, 19, 876, 154), False),
    ((q3_x, q3_xb), (q3_y, q3_yb), '3', (85, 249, 427, 384), False),
    ((q4_x, q4_xb), (q4_y, q4_yb), '4', (534, 249, 876, 384), False),
    ((q5_x, q5_xb), (q5_y, q5_yb), '5', (85, 478, 427, 613), False),
    ((q6_x, q6_xb), (q6_y, q6_yb), '6', (534, 478, 876, 613), False),
    ((r3_x, r3_xb), (r3_y, r3_yb), '3', (979, 257, 1377, 414), True),
    ((r4_x, r4_xb), (r4_y, r4_yb), '4', (1503, 257, 1901, 414), True),
]

fig = plt.figure(figsize=(W / 100, H / 100), dpi=100)

for xs, ys, idx, (l, t, r, b), big in panels:
    ax = fig.add_axes([l / W, 1 - b / H, (r - l) / W, (b - t) / H])
    x = np.concatenate(xs) / 1000.0
    y = np.concatenate(ys) / 100.0
    ax.plot(x, y, 'o', mfc='none', mec='#0000ff', ms=8.4 if big else 7.5, mew=0.75)
    ax.set_xlim(0, 1)
    ax.set_ylim(0, 3)
    ax.set_xticks(x_ticks)
    ax.set_xticklabels(x_tick_labels)
    ax.set_yticks(y_ticks)
    ax.set_yticklabels(y_tick_labels)
    fs = 20 if big else 18
    ax.tick_params(direction='in', length=3.5, width=0.8, top=True, right=True,
                   labelsize=fs)
    ax.tick_params(axis='x', pad=9)
    ax.tick_params(axis='y', pad=3)
    for s in ax.spines.values():
        s.set_linewidth(1.0)
    hgt = b - t
    ax.set_xlabel(r'q$_{\mathrm{' + idx + '}}$', fontsize=fs)
    ax.xaxis.set_label_coords(0.5, -(40 if not big else 48) / hgt)
    ax.set_ylabel('y', fontsize=fs)
    ax.yaxis.set_label_coords(-(56 if not big else 60) / (r - l), 0.5)

fig.text(987 / W, 1 - 68 / H, 'Insensitive Parameters: Take', fontsize=33.5,
         family='Liberation Sans', va='baseline', ha='left')
eq = fig.text(1270 / W, 1 - 157 / H,
              r'$q_1 \;=\; q_2 \;=\; q_5 \;=\; q_6 \;=$',
              fontsize=30.5, va='baseline', ha='left')
eq.set_math_fontfamily('cm')
frac = fig.text(1697 / W, 1 - 146 / H, r'$\dfrac{1}{2}$',
                fontsize=38, va='center', ha='left')
frac.set_math_fontfamily('cm')

fig.savefig('out.png', dpi=100)
